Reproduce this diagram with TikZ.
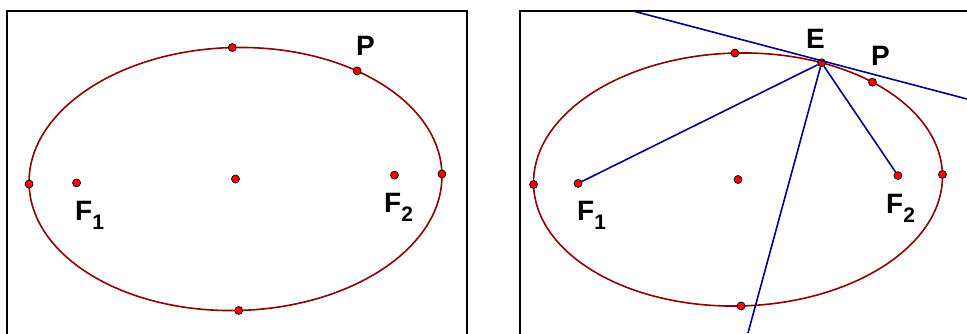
\documentclass[tikz,border=0pt]{standalone}
\usepackage{fontspec}
\setsansfont{Liberation Sans}
\usepackage{tikz}
\usetikzlibrary{positioning}
\definecolor{wine}{HTML}{8B0000}
\definecolor{navy}{HTML}{00008B}
\definecolor{dotred}{HTML}{FF0000}
\newcommand{\lowidx}[1]{\raisebox{-9.5pt}{\fontsize{21}{21}\selectfont #1}}

\begin{document}
\begin{tikzpicture}[x=1pt,y=1pt,
  redpt/.style={circle,fill=dotred,draw=black,line width=0.7pt,inner sep=0pt,minimum size=8pt},
  conic/.style={wine,line width=1.6pt},
  seg/.style={navy,line width=1.6pt},
  panel/.style={black,line width=2.6pt},
  lbl/.style={anchor=base west,inner sep=0pt,text=black,
    font=\sffamily\bfseries\fontsize{28}{30}\selectfont}]
  \useasboundingbox (0,0) rectangle (967,333);

  % left panel
  \draw[panel] (7,-5) -- (7,322) -- (467,322) -- (467,-5);
  \begin{scope}[shift={(235.5,154)},rotate=1.4]
    \draw[conic] (0,0) ellipse [x radius=206.5,y radius=131.5];
    \node[redpt] (l-c) at (0,0) {};
    \node[redpt] (l-f1) at (-159,0) {};
    \node[redpt] (l-f2) at (159,0) {};
    \node[redpt] (l-v1) at (0:206.5 and 131.5) {};
    \node[redpt] (l-v2) at (90:206.5 and 131.5) {};
    \node[redpt] (l-v3) at (180:206.5 and 131.5) {};
    \node[redpt] (l-v4) at (270:206.5 and 131.5) {};
    \node[redpt] (l-p) at (53:206.5 and 131.5) {};
  \end{scope}
  \node[lbl] (l-f1-lbl) at (75,113) {F\lowidx{1}};
  \node[lbl] (l-f2-lbl) at (384,121) {F\lowidx{2}};
  \node[lbl] (l-p-lbl) at (356,278) {P};

  % right panel
  \draw[panel] (520,-5) -- (520,322) -- (972,322);
  \begin{scope}[shift={(738,153.5)},rotate=1.4]
    \draw[conic] (0,0) ellipse [x radius=204.5,y radius=126.5];
    \node[redpt] (r-c) at (0,0) {};
    \node[redpt] (r-f1) at (-160,0) {};
    \node[redpt] (r-f2) at (160,0) {};
    \node[redpt] (r-v1) at (0:204.5 and 126.5) {};
    \node[redpt] (r-v2) at (90:204.5 and 126.5) {};
    \node[redpt] (r-v3) at (180:204.5 and 126.5) {};
    \node[redpt] (r-v4) at (270:204.5 and 126.5) {};
    \node[redpt] (r-e) at (65:204.5 and 126.5) {};
    \node[redpt] (r-p) at (48:204.5 and 126.5) {};
  \end{scope}
  \coordinate (r-ta) at (633,322);
  \coordinate (r-tb) at (967,234);
  \coordinate (r-n) at (748,0);
  \draw[seg] (r-ta) -- (r-tb);
  \draw[seg] (r-e) -- (r-f1);
  \draw[seg] (r-e) -- (r-f2);
  \draw[seg] (r-e) -- (r-n);
  \node[lbl] (r-f1-lbl) at (577,113) {F\lowidx{1}};
  \node[lbl] (r-f2-lbl) at (886,120) {F\lowidx{2}};
  \node[lbl] (r-e-lbl) at (806,285) {E};
  \node[lbl] (r-p-lbl) at (871,268) {P};
\end{tikzpicture}
\end{document}
